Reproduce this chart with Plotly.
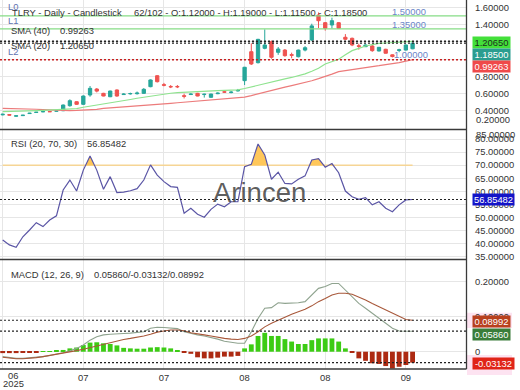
import plotly.graph_objects as go

# ---------------- data ----------------
bars = list(range(62))
opens = [0.355,0.358,0.340,0.346,0.370,0.382,0.390,0.394,0.398,0.403,
 0.461,0.507,0.477,0.585,0.654,0.604,0.565,0.643,0.590,0.598,
 0.600,0.604,0.681,0.808,0.705,0.684,0.684,0.577,0.590,0.604,
 0.590,0.558,0.600,0.622,0.613,0.632,0.751,1.086,0.959,1.125,
 1.202,1.079,1.105,1.052,1.028,1.105,1.222,1.511,1.422,1.395,
 1.422,1.253,1.241,1.155,1.144,1.152,1.094,1.114,1.050,1.100,
 1.105,1.120]
highs = [0.368,0.362,0.346,0.354,0.378,0.388,0.396,0.398,0.404,0.475,
 0.535,0.512,0.580,0.689,0.665,0.610,0.635,0.650,0.605,0.612,
 0.625,0.665,0.765,0.815,0.725,0.700,0.700,0.600,0.605,0.610,
 0.600,0.600,0.615,0.630,0.630,0.655,0.910,1.183,1.235,1.345,
 1.215,1.140,1.117,1.075,1.110,1.150,1.410,1.540,1.430,1.480,
 1.430,1.290,1.250,1.180,1.170,1.165,1.140,1.120,1.055,1.120,
 1.170,1.190]
lows = [0.350,0.348,0.336,0.343,0.366,0.378,0.386,0.388,0.394,0.398,
 0.450,0.470,0.470,0.565,0.615,0.570,0.560,0.565,0.585,0.590,
 0.590,0.598,0.675,0.730,0.685,0.665,0.665,0.545,0.585,0.570,
 0.555,0.555,0.595,0.610,0.605,0.625,0.700,0.932,0.950,1.114,
 1.005,1.050,1.028,1.010,1.020,1.090,1.210,1.360,1.330,1.355,
 1.350,1.220,1.150,1.110,1.140,1.085,1.090,1.065,1.020,1.080,
 1.100,1.115]
closes = [0.362,0.352,0.344,0.351,0.374,0.386,0.393,0.391,0.401,0.469,
 0.519,0.477,0.573,0.662,0.630,0.573,0.631,0.573,0.595,0.602,
 0.607,0.651,0.759,0.739,0.698,0.679,0.680,0.570,0.595,0.573,
 0.594,0.596,0.606,0.618,0.618,0.638,0.906,0.944,1.229,1.164,
 1.021,1.117,1.040,1.045,1.105,1.132,1.385,1.445,1.357,1.445,
 1.357,1.230,1.164,1.148,1.164,1.098,1.137,1.068,1.030,1.108,
 1.164,1.185]
sma20 = [0.392,0.393,0.394,0.396,0.399,0.404,0.407,0.410,0.413,0.417,
 0.420,0.428,0.443,0.455,0.466,0.481,0.494,0.507,0.520,0.533,
 0.547,0.560,0.572,0.585,0.597,0.605,0.612,0.617,0.623,0.627,
 0.630,0.632,0.635,0.638,0.640,0.645,0.660,0.680,0.700,0.720,
 0.739,0.755,0.772,0.788,0.805,0.830,0.860,0.894,0.944,0.970,
 0.998,1.050,1.098,1.125,1.152,1.168,1.183,1.187,1.190,1.196,
 1.201,1.2065]
sma40 = [0.431,0.430,0.428,0.427,0.425,0.420,0.416,0.412,0.409,0.407,
 0.405,0.406,0.410,0.414,0.418,0.431,0.436,0.442,0.447,0.452,
 0.458,0.464,0.470,0.477,0.483,0.489,0.495,0.501,0.507,0.513,
 0.519,0.525,0.531,0.537,0.542,0.547,0.560,0.578,0.598,0.620,
 0.643,0.660,0.677,0.694,0.711,0.727,0.750,0.774,0.797,0.826,
 0.855,0.868,0.881,0.894,0.904,0.914,0.924,0.934,0.944,0.960,
 0.976,0.99263]
rsi = [41.4,39.5,38.6,42.6,45.2,48.0,46.5,49.0,50.6,60.5,
 64.3,60.1,68.1,73.5,68.1,60.8,65.6,59.5,59.7,60.2,
 61.0,64.3,70.1,66.2,63.7,61.8,61.5,51.6,53.5,51.2,
 50.1,53.1,55.1,54.1,56.0,56.0,69.4,70.3,78.1,73.9,
 64.6,67.3,63.0,62.8,64.6,65.9,72.0,72.5,69.2,70.6,
 67.1,60.1,57.9,56.9,57.6,54.8,56.0,53.5,52.2,54.8,
 56.7,56.85482]
macd = [-0.014,-0.017,-0.019,-0.019,-0.018,-0.016,-0.014,-0.011,-0.008,-0.003,
 0.003,0.0095,0.019,0.033,0.043,0.048,0.050,0.052,0.052,0.053,
 0.054,0.057,0.067,0.070,0.069,0.068,0.066,0.057,0.052,0.048,
 0.045,0.041,0.036,0.030,0.026,0.024,0.024,0.057,0.095,0.124,
 0.126,0.140,0.138,0.138,0.140,0.143,0.162,0.181,0.186,0.195,
 0.195,0.176,0.157,0.138,0.124,0.110,0.095,0.081,0.067,0.059,
 0.059,0.05860]
signal = [-0.016,-0.019,-0.020,-0.020,-0.019,-0.017,-0.014,-0.011,-0.008,-0.005,
 -0.001,0.003,0.007,0.012,0.017,0.022,0.026,0.030,0.035,0.038,
 0.041,0.045,0.050,0.056,0.059,0.062,0.062,0.060,0.054,0.050,
 0.048,0.045,0.041,0.038,0.036,0.035,0.038,0.045,0.057,0.071,
 0.081,0.090,0.100,0.107,0.114,0.121,0.131,0.143,0.152,0.162,
 0.167,0.167,0.164,0.157,0.148,0.138,0.129,0.119,0.110,0.100,
 0.092,0.08992]
hist = [-0.004,-0.004,-0.004,-0.003,-0.002,-0.001,0.001,0.002,0.003,0.005,
 0.0095,0.012,0.019,0.026,0.027,0.024,0.022,0.018,0.011,0.0095,
 0.0086,0.0086,0.012,0.013,0.012,0.0095,0.003,-0.003,-0.006,-0.016,
 -0.019,-0.019,-0.017,-0.014,-0.014,-0.012,0.0095,0.021,0.045,0.054,
 0.045,0.045,0.036,0.029,0.022,0.022,0.033,0.038,0.038,0.038,
 0.029,0.0095,-0.003,-0.019,-0.026,-0.033,-0.035,-0.041,-0.048,-0.043,
 -0.038,-0.03132]
date_ticks = [0, 12, 24, 36, 48, 60]
date_labels = ["", "07", "07", "08", "08", "09"]
levels = {"L0": 1.50, "L1": 1.35, "L2": 1.00}
rsi_ob = 70

# ---------------- layout helpers ----------------
W, H = 520, 390
ML, MR, MT, MB = 0, 54, 0, 21
PW, PH = W - ML - MR, H - MT - MB
def px(x): return (x - ML) / PW
def py(y): return 1 - (y - MT) / PH

FONT = "Liberation Sans, Arial, sans-serif"
FS = 9.4
TXT = "#333333"
UP, DN = "#26a69a", "#ef5350"
GRID = "#e6e6e6"

fig = go.Figure()

fig.add_trace(go.Candlestick(x=bars, open=opens, high=highs, low=lows, close=closes,
    increasing=dict(line=dict(color=UP, width=1), fillcolor=UP),
    decreasing=dict(line=dict(color=DN, width=1), fillcolor=DN),
    xaxis="x", yaxis="y", hoverinfo="skip", showlegend=False))
fig.add_trace(go.Scatter(x=bars, y=sma40, mode="lines", line=dict(color="#ec7b7b", width=1.2),
    xaxis="x", yaxis="y", hoverinfo="skip"))
fig.add_trace(go.Scatter(x=bars, y=sma20, mode="lines", line=dict(color="#8fe38f", width=1.2),
    xaxis="x", yaxis="y", hoverinfo="skip"))

# RSI fill above 70
fx, fy, seg = [], [], []
for i, v in enumerate(rsi):
    if i > 0:
        v0 = rsi[i - 1]
        if (v0 - rsi_ob) * (v - rsi_ob) < 0:
            t = (rsi_ob - v0) / (v - v0)
            seg.append((i - 1 + t, rsi_ob))
            if v < rsi_ob:
                fx += [p[0] for p in seg] + [None]
                fy += [p[1] for p in seg] + [None]
                seg = []
    if v >= rsi_ob:
        seg.append((i, v))
if seg:
    seg.append((seg[-1][0], rsi_ob))
    fx += [p[0] for p in seg]
    fy += [p[1] for p in seg]
fig.add_trace(go.Scatter(x=[bars[0], bars[-1]], y=[rsi_ob, rsi_ob], mode="lines",
    line=dict(color="#f6d595", width=1.5), xaxis="x2", yaxis="y2", hoverinfo="skip"))
fig.add_trace(go.Scatter(x=fx, y=fy, mode="lines", fill="toself", fillcolor="#ffc75a",
    line=dict(width=0, color="#ffc75a"), xaxis="x2", yaxis="y2", hoverinfo="skip"))
fig.add_trace(go.Scatter(x=bars, y=rsi, mode="lines", line=dict(color="#5a55a5", width=1.2),
    xaxis="x2", yaxis="y2", hoverinfo="skip"))

# MACD
fig.add_trace(go.Bar(x=bars, y=hist, width=0.72,
    marker=dict(color=["#3ccc14" if h >= 0 else "#ad2a12" for h in hist], line=dict(width=0)),
    xaxis="x3", yaxis="y3", hoverinfo="skip"))
fig.add_trace(go.Scatter(x=bars, y=macd, mode="lines", line=dict(color="#8fa38f", width=1.1),
    xaxis="x3", yaxis="y3", hoverinfo="skip"))
fig.add_trace(go.Scatter(x=bars, y=signal, mode="lines", line=dict(color="#a8583a", width=1.1),
    xaxis="x3", yaxis="y3", hoverinfo="skip"))

xr = [-0.4, 68.95]
xcommon = dict(range=xr, showgrid=True, gridcolor=GRID, gridwidth=1, zeroline=False,
               tickmode="array", tickvals=date_ticks, ticktext=date_labels, ticks="",
               showline=False, fixedrange=True)
ycommon = dict(side="right", showgrid=True, gridcolor=GRID, gridwidth=1, zeroline=False,
               ticks="", showline=False, tickfont=dict(family=FONT, size=FS, color=TXT),
               ticklabelstandoff=8, fixedrange=True)

main_vals = [0.2, 0.4, 0.6, 0.8, 1.0, 1.2, 1.4, 1.6]
main_txt = ["", "0.40000", "0.60000", "0.80000", "", "", "1.40000", "1.60000"]
rsi_vals = [35, 40, 45, 50, 55, 60, 65, 70, 75, 80]
macd_vals = [0, 0.1, 0.2]

fig.update_layout(
    width=W, height=H, margin=dict(l=ML, r=MR, t=MT, b=MB),
    paper_bgcolor="white", plot_bgcolor="white", showlegend=False, hovermode=False,
    xaxis=dict(**xcommon, anchor="y", showticklabels=False, rangeslider=dict(visible=False)),
    xaxis2=dict(**xcommon, anchor="y2", matches="x", showticklabels=False),
    xaxis3=dict(**xcommon, anchor="y3", matches="x", showticklabels=True,
                tickfont=dict(family=FONT, size=FS, color=TXT), ticklabelstandoff=2),
    yaxis=dict(**ycommon, domain=[1 - 129 / PH, 1], range=[0.1914, 1.6845],
               tickmode="array", tickvals=main_vals, ticktext=main_txt),
    yaxis2=dict(**ycommon, domain=[1 - 259 / PH, 1 - 130 / PH], range=[34.11, 83.44],
                tickmode="array", tickvals=rsi_vals, ticktext=["%.5f" % v for v in rsi_vals]),
    yaxis3=dict(**ycommon, domain=[0, 1 - 260 / PH], range=[-0.0494, 0.262],
                tickmode="array", tickvals=macd_vals, ticktext=["0", "0.10000", "0.20000"]),
    bargap=0.28,
)

shapes = []
def hline(yv, yref, color, width, dash, x0=0, x1=1, xref="paper"):
    shapes.append(dict(type="line", xref=xref, yref=yref, x0=x0, x1=x1, y0=yv, y1=yv,
                       line=dict(color=color, width=width, dash=dash), layer="above"))

# main panel level lines (L2 lies under the SMA(40) value line)
hline(levels["L0"], "y", "#86dc86", 1.3, "solid")
hline(levels["L1"], "y", "#86dc86", 1.3, "solid")
hline(sma20[-1], "y", "#222222", 1.4, "2px,2px")
hline(closes[-1], "y", "#222222", 1.4, "2px,2px")
hline(sma40[-1], "y", "#c82020", 1.4, "2px,2px")
# RSI / MACD value lines
hline(rsi[-1], "y2", "#222222", 1.2, "2px,2px")
hline(signal[-1], "y3", "#222222", 1.2, "2px,2px")
hline(macd[-1], "y3", "#222222", 1.2, "2px,2px")
hline(hist[-1], "y3", "#222222", 1.2, "2px,2px")

# pink zones on the MACD value scale
for (a, b) in [(312.7, 328.0), (355.0, 375.0)]:
    shapes.append(dict(type="rect", xref="paper", yref="paper", x0=px(467), x1=px(512),
                       y0=py(b), y1=py(a), fillcolor="#fde3f1", line=dict(width=0), layer="below"))

# frame lines
for yy in [129.5, 259.5, 369.0]:
    shapes.append(dict(type="line", xref="paper", yref="paper", x0=0, x1=px(466.5), y0=py(yy), y1=py(yy),
                       line=dict(color="#3a3a3a", width=1.3)))
shapes.append(dict(type="line", xref="paper", yref="paper", x0=px(466.5), x1=px(466.5), y0=py(0), y1=py(369),
                   line=dict(color="#3a3a3a", width=1.3)))
fig.update_layout(shapes=shapes)

ann = []
def text(x, y, s, color=TXT, size=FS, xanchor="left", **kw):
    ann.append(dict(xref="paper", yref="paper", x=px(x), y=py(y), text=s, showarrow=False,
                    xanchor=xanchor, yanchor="middle", font=dict(family=FONT, size=size, color=color), **kw))

text(9.5, 12.5, "TLRY - Daily - Candlestick")
text(131.7, 12.5, "62/102 - O:%.5f - H:%.5f - L:%.5f - C:%.5f" % (opens[-1], highs[-1], lows[-1], closes[-1]))
text(9.3, 30.0, "SMA (40)")
text(57.7, 30.0, "%.5f" % sma40[-1])
text(9.3, 45.3, "SMA (20)")
text(57.7, 45.3, "%.5f" % sma20[-1])
LBLC = "#5f74b0"
text(5.5, 6.3, "L0", color=LBLC)
text(5.5, 21.0, "L1", color=LBLC)
text(5.5, 51.7, "L2", color=LBLC)
LVC = "#6b86c8"
text(409, 11.5, "%.5f" % levels["L0"], color=LVC, xanchor="center")
text(409, 24.3, "%.5f" % levels["L1"], color=LVC, xanchor="center")
text(410.5, 54.0, "%.5f" % levels["L2"], color=LVC, xanchor="center")
text(474, 119.5, "0.20000")
text(474, 134.0, "85.00000")
text(9.0, 143.3, "RSI (20, 70, 30)")
text(85.0, 143.3, "%.5f" % rsi[-1])
text(9.0, 274.3, "MACD (12, 26, 9)")
text(91.7, 274.3, "%.5f/%.5f/%.5f" % (macd[-1], hist[-1], signal[-1]))
text(13.0, 375.5, "06", xanchor="center")
text(13.8, 383.5, "2025", xanchor="center")
text(259.5, 193.0, "Arincen", color="rgba(66,66,66,0.85)", size=27.5, xanchor="center")

def tag(y, s, bg, fg="white"):
    w = 36 if len(s) <= 7 else 40
    ann.append(dict(xref="paper", yref="paper", x=px(472), y=py(y), text=s, showarrow=False,
                    xanchor="left", yanchor="middle", bgcolor=bg, borderpad=0.5, width=w, height=9.5,
                    align="center", font=dict(family=FONT, size=FS, color=fg)))

tag(42.2, "%.5f" % sma20[-1], "#43e03a", "#1d2b1d")
tag(54.2, "%.5f" % closes[-1], "#2a9d8f")
tag(66.5, "%.5f" % sma40[-1], "#ef4a4a")
tag(200.0, "%.5f" % rsi[-1], "#1414c8")
tag(321.7, "%.5f" % signal[-1], "#b8401e")
tag(334.0, "%.5f" % macd[-1], "#3a7d3a")
tag(363.8, "%.5f" % hist[-1], "#e02418")

fig.update_layout(annotations=ann)
fig.write_html("out.html", config={"displayModeBar": False},
               post_script="document.body.style.margin='0';")
